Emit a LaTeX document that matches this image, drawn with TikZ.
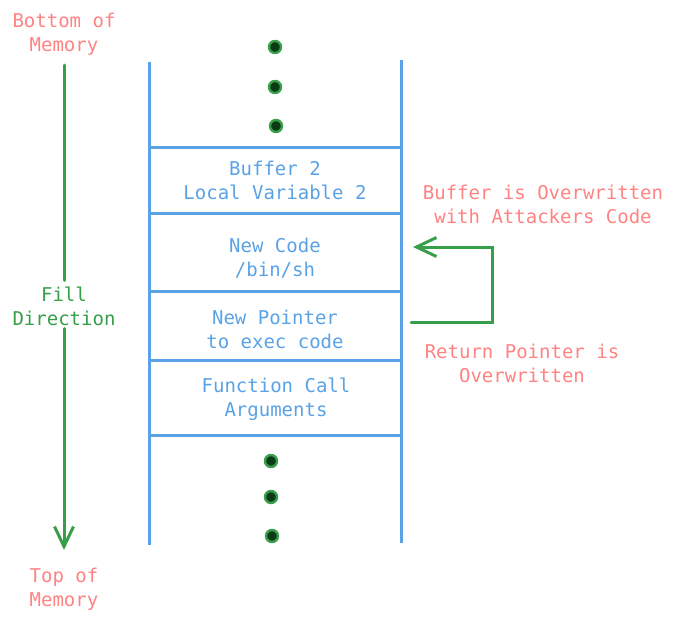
\documentclass[tikz,border=0pt]{standalone}
\usepackage{fontspec}
\setmainfont{DejaVu Sans Mono}
\usetikzlibrary{arrows.meta}
\definecolor{stackblue}{HTML}{5AA2E6}
\definecolor{textred}{HTML}{FF8383}
\definecolor{arrgreen}{HTML}{379E4A}
\definecolor{dotfill}{HTML}{0B3A16}
\begin{document}
\begin{tikzpicture}[x=1pt,y=-1pt,
  every node/.style={font=\fontsize{19}{24}\selectfont, align=center, inner sep=0pt},
  cell/.style={draw=stackblue, line width=3pt, minimum width=252pt},
  bluetext/.style={text=stackblue},
  redtext/.style={text=textred},
  greentext/.style={text=arrgreen},
  wall/.style={draw=stackblue, line width=3pt},
  greenline/.style={draw=arrgreen, line width=3pt, line cap=round},
  opentip/.style={-{Straight Barb[length=20pt,width=19pt,line width=3pt]}},
  dotmark/.style={circle, fill=dotfill, draw=arrgreen, line width=2.4pt, minimum size=12pt}
]
\useasboundingbox (0,0) rectangle (680,622);

% stack cells
\node[cell, minimum height=66pt] (buf) at (275,180) {};
\node[cell, minimum height=78pt] (code) at (275,252) {};
\node[cell, minimum height=69pt] (ptr) at (275,325.5) {};
\node[cell, minimum height=75pt] (args) at (275,397.5) {};

\node[bluetext] (buft) at (275,180) {Buffer 2\\Local Variable 2};
\node[bluetext] (codet) at (275,258) {New Code\\/bin/sh};
\node[bluetext] (ptrt) at (275,329) {New Pointer\\to exec code};
\node[bluetext] (argst) at (276,399) {Function Call\\Arguments};

% stack walls
\coordinate (wlt) at (149,62);
\coordinate (wlb) at (149,545);
\coordinate (wrt) at (401,60);
\coordinate (wrb) at (401,543);
\draw[wall] (wlt) -- (wlb);
\draw[wall] (wrt) -- (wrb);

% dots
\node[dotmark] (d1) at (275,47) {};
\node[dotmark] (d2) at (275,87) {};
\node[dotmark] (d3) at (276,126) {};
\node[dotmark] (d4) at (271,461) {};
\node[dotmark] (d5) at (271,497) {};
\node[dotmark] (d6) at (272,536) {};

% memory labels and fill direction
\node[redtext] (bottom) at (64,34) {Bottom of\\Memory};
\node[redtext] (top) at (64,589) {Top of\\Memory};
\node[greentext] (fill) at (64,306) {Fill\\Direction};
\coordinate (gstart) at (64,65);
\coordinate (gend) at (64,550);
\draw[greenline] (gstart) -- ([yshift=6pt]fill.north);
\draw[greenline, opentip] ([yshift=-3pt]fill.south) -- (gend);

% right side
\node[redtext] (over) at (543,204) {Buffer is Overwritten\\with Attackers Code};
\node[redtext] (ret) at (522,363) {Return Pointer is\\Overwritten};
\coordinate (from) at (411,322);
\coordinate (to) at (413,247);
\coordinate (corner) at (492,322);
\draw[greenline, opentip] (from) -- (corner) |- (to);
\end{tikzpicture}
\end{document}
